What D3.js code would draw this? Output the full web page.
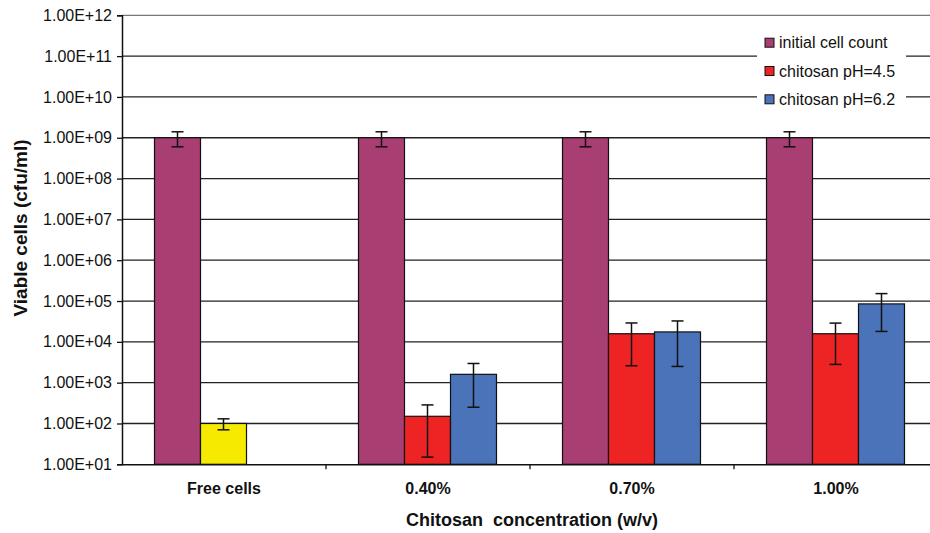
<!DOCTYPE html>
<html><head><meta charset="utf-8">
<script src="https://cdn.jsdelivr.net/npm/d3@7"></script>
<style>
html,body{margin:0;padding:0;background:#fff;}
svg{display:block;font-family:"Liberation Sans",Arial,sans-serif;}
</style></head>
<body>
<svg id="chart" width="930" height="533"></svg>
<script>
// ---- data ----
const categories = ["Free cells", "0.40%", "0.70%", "1.00%"];
const seriesNames = ["initial cell count", "chitosan pH=4.5", "chitosan pH=6.2"];
const seriesColors = ["#A83E72", "#EE2424", "#4A73B9"];
const freeCellsColor = "#F5EA00";
const initialCount = [1e9, 1e9, 1e9, 1e9];
const initialErr   = [4e8, 4e8, 4e8, 4e8];
const ph45         = [100, 150, 1.58e4, 1.58e4];
const ph45Err      = [30, 135, 1.32e4, 1.3e4];
const ph62         = [null, 1600, 1.75e4, 8.5e4];
const ph62Err      = [null, 1350, 1.5e4, 6.7e4];
const yTickValues  = [1e1,1e2,1e3,1e4,1e5,1e6,1e7,1e8,1e9,1e10,1e11,1e12];
const yTickLabels  = ["1.00E+01","1.00E+02","1.00E+03","1.00E+04","1.00E+05","1.00E+06",
                      "1.00E+07","1.00E+08","1.00E+09","1.00E+10","1.00E+11","1.00E+12"];

(function () {
const seriesVals = [initialCount, ph45, ph62];
const seriesErrs = [initialErr, ph45Err, ph62Err];

const svg = d3.select("#chart");
const pLeft = 122, pRight = 938, pTop = 15.3, pBottom = 464.3;

const x = d3.scaleBand().domain(categories).range([pLeft, pRight]).paddingInner(0).paddingOuter(0);
const y = d3.scaleLog().domain([1e1, 1e12]).range([pBottom, pTop]);

// gridlines
svg.append("g").selectAll("line").data(yTickValues.slice(1)).join("line")
  .attr("x1", pLeft).attr("x2", 930)
  .attr("y1", d => y(d)).attr("y2", d => y(d))
  .attr("stroke", d => d === 1e12 ? "#777" : "#222").attr("stroke-width", 1.3);

// bars
const bw = x.bandwidth() * 46 / 204, off = x.bandwidth() * 32.5 / 204;
const barData = [];
categories.forEach((c, i) => {
  seriesVals.forEach((vals, s) => {
    if (vals[i] == null) return;
    barData.push({c, i, s, v: vals[i], e: seriesErrs[s][i],
      color: (i === 0 && s === 1) ? freeCellsColor : seriesColors[s]});
  });
});
const bx = d => x(d.c) + off + d.s * bw;
svg.append("g").selectAll("rect").data(barData).join("rect")
  .attr("x", bx).attr("width", bw)
  .attr("y", d => y(d.v)).attr("height", d => pBottom - y(d.v))
  .attr("fill", d => d.color).attr("stroke", "#111").attr("stroke-width", 1.2);

// error bars
const eg = svg.append("g").attr("stroke", "#111").attr("stroke-width", 1.5);
barData.forEach(d => {
  const cx = bx(d) + bw / 2;
  const hi = y(d.v + d.e), lo = y(d.v - d.e);
  eg.append("line").attr("x1", cx).attr("x2", cx).attr("y1", hi).attr("y2", lo);
  eg.append("line").attr("x1", cx - 6).attr("x2", cx + 6).attr("y1", hi).attr("y2", hi);
  eg.append("line").attr("x1", cx - 6).attr("x2", cx + 6).attr("y1", lo).attr("y2", lo);
});

// y axis
const yAxis = d3.axisLeft(y).tickValues(yTickValues)
  .tickFormat((d, i) => yTickLabels[i]).tickSize(5).tickPadding(5);
const yg = svg.append("g").attr("transform", `translate(${pLeft},0)`).call(yAxis);
yg.select(".domain").attr("stroke", "#111").attr("stroke-width", 1.5);
yg.selectAll(".tick line").attr("stroke", "#111").attr("stroke-width", 1.3);
yg.selectAll(".tick text").attr("font-size", 16).attr("fill", "#111")
  .attr("font-family", "Liberation Sans, Arial, sans-serif");

// x axis
const xAxis = d3.axisBottom(x).tickSize(0).tickPadding(18);
const xg = svg.append("g").attr("transform", `translate(0,${pBottom})`).call(xAxis);
xg.select(".domain").attr("stroke", "#111").attr("stroke-width", 1.5);
xg.selectAll(".tick text").attr("font-size", 16).attr("font-weight", "bold").attr("fill", "#111")
  .attr("font-family", "Liberation Sans, Arial, sans-serif");
// category separator ticks
svg.append("g").selectAll("line").data(categories.slice(1)).join("line")
  .attr("x1", d => x(d)).attr("x2", d => x(d))
  .attr("y1", pBottom).attr("y2", pBottom + 5)
  .attr("stroke", "#111").attr("stroke-width", 1.3);

// axis titles
svg.append("text").attr("x", 532).attr("y", 526).attr("text-anchor", "middle")
  .attr("font-size", 18).attr("font-weight", "bold").attr("fill", "#111")
  .style("white-space", "pre")
  .text("Chitosan  concentration (w/v)");
svg.append("text").attr("transform", "translate(27,228) rotate(-90)").attr("text-anchor", "middle")
  .attr("font-size", 19).attr("font-weight", "bold").attr("fill", "#111")
  .text("Viable cells (cfu/ml)");

// legend
const lg = svg.append("g");
lg.append("rect").attr("x", 757).attr("y", 28).attr("width", 149).attr("height", 85).attr("fill", "#fff");
const rowY = [42.7, 71, 99.3];
seriesNames.forEach((n, i) => {
  lg.append("rect").attr("x", 765).attr("y", rowY[i] - 4.5).attr("width", 9).attr("height", 9)
    .attr("fill", seriesColors[i]).attr("stroke", "#111").attr("stroke-width", 1);
  lg.append("text").attr("x", 779).attr("y", rowY[i]).attr("dy", "0.35em")
    .attr("font-size", 16).attr("fill", "#111").text(n);
});
})();
</script>
</body></html>
